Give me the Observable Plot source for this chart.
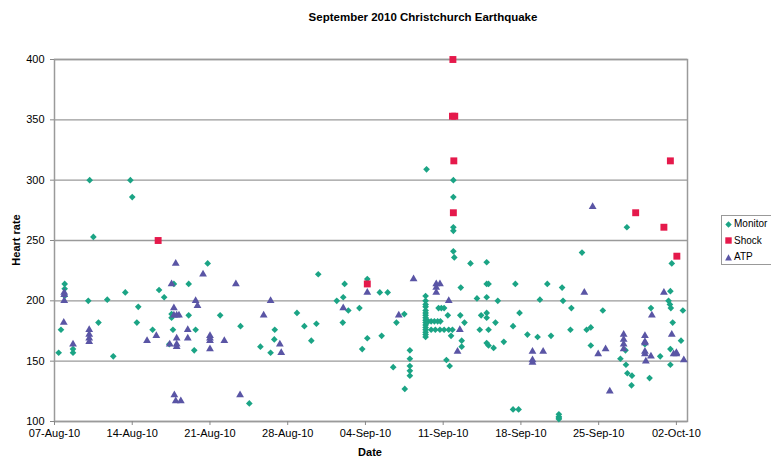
<!DOCTYPE html>
<html><head><meta charset="utf-8">
<script src="https://cdn.jsdelivr.net/npm/d3@7"></script>
<script src="https://cdn.jsdelivr.net/npm/@observablehq/plot@0.6"></script>
<style>
body{margin:0;background:#fff;font-family:"Liberation Sans",Arial,sans-serif;}
#wrap{position:relative;width:771px;height:458px;overflow:hidden;background:#fff;}
#title{position:absolute;top:11px;left:423px;transform:translateX(-50%);font-weight:bold;font-size:11.5px;white-space:nowrap;}
#ylab{position:absolute;left:16px;top:240px;transform:translate(-50%,-50%) rotate(-90deg);font-weight:bold;font-size:11px;white-space:nowrap;}
#xlab{position:absolute;left:370px;top:446px;transform:translateX(-50%);font-weight:bold;font-size:11px;white-space:nowrap;}
#legend{position:absolute;left:721px;top:215px;width:60px;height:50px;border:1px solid #999;box-sizing:border-box;background:#fff;font-size:10px;}
#legend div{position:absolute;left:3px;height:14px;line-height:14px;white-space:nowrap;}
#legend svg{vertical-align:middle;margin-right:2px;}
</style></head>
<body>
<div id="wrap">
  <div id="chart"></div>
  <div id="title">September 2010 Christchurch Earthquake</div>
  <div id="ylab">Heart rate</div>
  <div id="xlab">Date</div>
  <div id="legend"></div>
</div>
<script>
const seriesNames = ["Monitor", "Shock", "ATP"];
const seriesColors = ["#1ba485", "#e5194b", "#5a55a5"];
const yTicks = [100, 150, 200, 250, 300, 350, 400];
const xTickLabels = ["07-Aug-10","14-Aug-10","21-Aug-10","28-Aug-10","04-Sep-10","11-Sep-10","18-Sep-10","25-Sep-10","02-Oct-10"];
const xDomain = ["2010-08-07 00", "2010-10-03 00"];

const monitor = [
["08-10 04",300],["08-13 20",300],["08-14 00",286],["08-10 12",253],
["08-07 22",214],["08-07 22",210],["08-07 22",204],["08-10 01",200],["08-11 18",201],["08-13 09",207],["08-14 13",195],["08-10 23",182],["08-07 14",176],["08-14 10",182],["08-15 20",176],["08-07 09",157],["08-08 16",160],["08-08 16",157],["08-12 07",154],["08-16 10",209],
["08-20 19",231],["08-17 18",214],["08-19 02",214],["08-16 21",203],["08-17 13",189],["08-17 13",186],["08-19 02",188],["08-21 22",188],["08-17 16",176],["08-19 17",176],["08-23 18",179],["08-17 08",164],["08-19 14",159],["08-25 13",162],["08-24 13",115],
["08-30 18",222],["09-02 03",214],["09-04 04",218],["09-01 10",200],["09-02 00",203],["09-02 11",192],["09-03 11",194],["08-28 20",190],["08-29 12",179],["08-30 14",181],["09-01 23",182],["08-26 20",176],["08-26 19",168],["08-30 03",167],["08-26 11",157],["09-03 17",160],["09-04 04",169],
["09-11 22",300],["09-11 22",286],["09-11 22",261],["09-11 22",258],["09-09 12",309],["09-11 22",241],["09-12 00",236],["09-13 11",231],["09-12 14",211],["09-05 07",207],["09-06 00",207],["09-09 10",204],["09-07 12",189],["09-06 19",182],["09-05 11",171],["09-06 12",145],["09-08 00",159],["09-08 00",152],["09-08 00",146],["09-08 00",142],["09-08 00",138],["09-07 13",127],
["09-09 10",200],["09-09 10",197],["09-09 10",195],["09-09 10",192],["09-09 10",190],["09-09 10",188],["09-09 10",186],["09-09 10",184],["09-09 10",182],["09-09 10",180],["09-09 10",178],["09-09 10",176],["09-09 10",174],["09-09 10",172],["09-09 10",170],
["09-09 16",183],["09-09 22",183],["09-10 05",183],["09-10 12",183],["09-10 18",183],
["09-09 22",176],["09-10 07",176],["09-10 17",176],["09-11 02",176],["09-11 12",176],["09-11 20",176],
["09-10 14",194],["09-10 20",194],["09-11 02",194],["09-11 10",188],["09-11 17",171],["09-12 13",188],["09-12 22",182],["09-12 16",167],["09-12 16",162],["09-11 07",151],["09-11 14",146],
["09-14 22",232],["09-14 22",214],["09-15 02",214],["09-17 12",214],["09-20 09",214],["09-21 17",211],["09-14 01",202],["09-14 22",203],["09-15 22",200],["09-19 17",201],["09-21 19",200],["09-22 13",194],["09-14 10",188],["09-14 22",190],["09-14 22",186],["09-17 21",190],["09-15 17",182],["09-17 07",179],["09-14 07",176],["09-15 02",176],["09-22 11",176],["09-14 22",165],["09-15 02",163],["09-15 13",161],["09-16 11",166],["09-18 14",172],["09-19 12",170],["09-20 17",171],["09-17 07",110],["09-17 19",110],["09-21 10",106],["09-21 10",104],["09-21 10",103],["09-21 10",102],
["09-23 12",240],["09-27 13",261],["10-01 14",231],["10-01 11",208],["10-01 07",200],["10-01 10",197],["10-01 12",194],["10-02 14",192],["09-29 17",194],["09-25 09",192],["10-01 16",182],["09-23 22",176],["09-24 07",178],["10-02 10",167],["09-24 07",163],["09-27 10",159],["10-01 11",160],["09-30 13",154],["09-26 23",152],["09-27 11",147],["10-01 11",147],["09-27 14",140],["09-28 00",138],["09-27 23",130],["09-29 14",136],["09-29 04",164]
];

const shock = [
["08-16 08",250],["09-04 04",214],["09-11 21",400],["09-11 20",353],["09-12 01",353],["09-11 23",316],["09-11 22",273],["09-28 08",273],["09-30 21",261],["10-01 11",316],["10-02 01",237]
];

const atp = [
["08-07 20",182],["08-07 21",207],["08-07 21",205],["08-07 21",200],["08-08 16",164],["08-10 03",176],["08-10 03",172],["08-10 03",169],["08-10 03",166],["08-15 08",167],["08-16 04",171],
["08-17 22",231],["08-20 09",222],["08-17 13",214],["08-23 08",214],["08-19 17",200],["08-19 21",196],["08-17 18",194],["08-17 18",188],["08-18 00",188],["08-18 05",188],["08-25 20",188],["08-19 00",176],["08-18 00",169],["08-19 00",169],["08-17 09",164],["08-18 00",164],["08-18 00",162],["08-21 00",171],["08-21 00",169],["08-21 00",167],["08-21 00",160],["08-22 07",167],["08-17 19",122],["08-17 22",117],["08-18 09",117],["08-23 17",122],
["08-26 11",200],["09-02 00",194],["08-27 07",164],["08-27 10",157],["09-04 04",207],["09-08 08",218],["09-10 09",214],["09-10 17",214],["09-10 09",211],["09-10 09",207],["09-07 00",188],["09-11 12",200],["09-12 12",176],["09-12 07",158],["09-19 01",158],["09-20 00",158],["09-19 01",151],["09-19 01",149],
["09-24 11",278],["09-23 17",207],["09-30 21",207],["09-29 19",188],["10-01 14",172],["09-27 06",172],["09-27 06",168],["09-27 06",164],["09-27 06",160],["09-29 04",171],["09-29 04",166],["09-29 04",165],["09-29 04",158],["09-29 04",156],["09-29 06",150],["09-29 17",154],["09-24 23",156],["09-25 15",160],["10-01 18",156],["10-02 00",157],["10-02 00",156],["10-02 16",151],["09-26 00",125]
];

const parseFull = d3.utcParse("%Y-%m-%d %H");
const parseDate = s => parseFull("2010-" + s);
const parseTick = d3.utcParse("%d-%b-%y");
const fmtTick = d3.utcFormat("%d-%b-%y");
const toRows = (arr, name) => arr.map(([d, v]) => ({date: parseDate(d), hr: v, series: name}));

const rows = [toRows(monitor, "Monitor"), toRows(shock, "Shock"), toRows(atp, "ATP")];
const xTicks = xTickLabels.map(parseTick);

const chart = Plot.plot({
  width: 771,
  height: 458,
  marginLeft: 54,
  marginRight: 84,
  marginTop: 59,
  marginBottom: 37,
  style: {fontFamily: "'Liberation Sans', Arial, sans-serif", fontSize: "11px", color: "#000", background: "#fff"},
  x: {type: "utc", domain: xDomain.map(parseFull)},
  y: {domain: [yTicks[0], yTicks[yTicks.length - 1]]},
  marks: [
    Plot.gridY(yTicks, {stroke: "#9a9a9a", strokeOpacity: 1, strokeWidth: 1.3}),
    Plot.frame({stroke: "#9a9a9a", strokeWidth: 1.5}),
    Plot.axisY({ticks: yTicks, tickSize: 4, tickPadding: 6, label: null, stroke: "#888", fill: "#000", fontSize: 11}),
    Plot.axisX({ticks: xTicks, tickFormat: fmtTick, tickSize: 4, tickPadding: 4, label: null, stroke: "#888", fill: "#000", fontSize: 11}),
    Plot.dot(rows[0], {x: "date", y: "hr", symbol: "diamond2", r: 3, fill: seriesColors[0], stroke: "none"}),
    Plot.dot(rows[1], {x: "date", y: "hr", symbol: "square", r: 3.9, fill: seriesColors[1], stroke: "none"}),
    Plot.dot(rows[2], {x: "date", y: "hr", symbol: "triangle", r: 2.9, fill: seriesColors[2], stroke: "none"})
  ]
});
document.getElementById("chart").appendChild(chart);

// legend
const legend = document.getElementById("legend");
const legendSymbols = [
  `<svg width="7" height="7" viewBox="-3.5 -3.5 7 7"><path d="M0,-3.2L3.2,0L0,3.2L-3.2,0Z" fill="${seriesColors[0]}"/></svg>`,
  `<svg width="7" height="7" viewBox="-3.5 -3.5 7 7"><rect x="-3.2" y="-3.2" width="6.4" height="6.4" fill="${seriesColors[1]}"/></svg>`,
  `<svg width="7" height="7" viewBox="-3.5 -3.5 7 7"><path d="M0,-3.3L3.4,3L-3.4,3Z" fill="${seriesColors[2]}"/></svg>`
];
seriesNames.forEach((name, i) => {
  const el = document.createElement("div");
  el.style.top = (1 + i * 16.5) + "px";
  el.innerHTML = legendSymbols[i] + name;
  legend.appendChild(el);
});
</script>
</body></html>
